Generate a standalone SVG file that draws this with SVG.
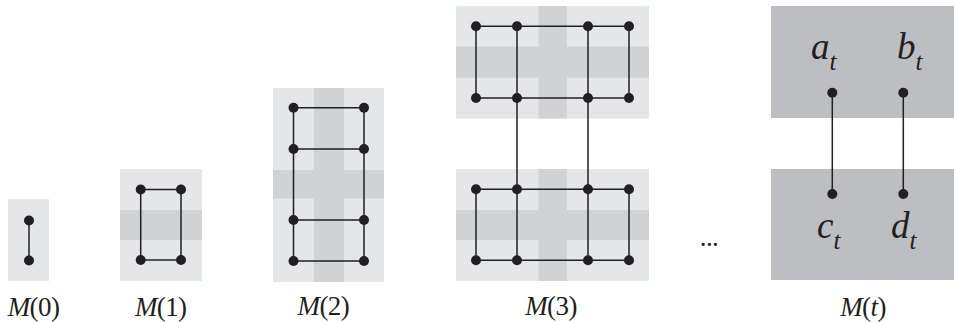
<svg xmlns="http://www.w3.org/2000/svg" width="954" height="322" viewBox="0 0 954 322">
<style>
.bg{fill:#e5e6e8}
.band{fill:#d1d2d4}
.dk{fill:#bdbec2}
.e{stroke:#231f20;stroke-width:1.5;fill:none}
.d{fill:#231f20}
text{font-family:'Liberation Serif','Times New Roman',Times,serif;fill:#231f20}
.lbl{font-size:27px;text-anchor:middle;letter-spacing:-0.6px}
.it{font-style:italic}
.var{font-style:italic}
</style>
<defs>
<circle id="dot" r="5" class="d"/>
</defs>
<g id="M0">
<rect class="bg" x="8" y="199" width="41" height="82"/>
</g>
<g id="M1">
<rect class="bg" x="120" y="169" width="82" height="112"/>
<rect class="band" x="120" y="210" width="82" height="30"/>
</g>
<g id="M2">
<rect class="bg" x="273" y="88" width="111" height="194"/>
<rect class="band" x="314" y="88" width="30" height="194"/>
<rect class="band" x="273" y="170" width="111" height="28.5"/>
</g>
<g id="M3">
<rect class="bg" x="456" y="6" width="193" height="112.5"/>
<rect class="band" x="538.5" y="6" width="28.5" height="112.5"/>
<rect class="band" x="456" y="46.7" width="193" height="31"/>
<rect class="bg" x="456" y="169" width="193" height="112"/>
<rect class="band" x="538.5" y="169" width="28.5" height="112"/>
<rect class="band" x="456" y="210" width="193" height="30"/>
</g>
<g id="Mt">
<rect class="dk" x="771" y="6" width="183" height="112"/>
<rect class="dk" x="771" y="169" width="183" height="111"/>
</g>
<g id="connectors">
<path class="e" d="M29 220.5V260.5"/>
<path class="e" d="M140.7 189.5H181V260H140.7Z"/>
<path class="e" d="M293.5 107.7V261M364 107.7V261M293.5 107.7H364M293.5 149H364M293.5 220H364M293.5 261H364"/>
<path class="e" d="M476 26.3H629M476 98H629M476 26.3V98M629 26.3V98M517 26.3V260.3M588 26.3V260.3"/>
<path class="e" d="M476 189.3H629M476 260.3H629M476 189.3V260.3M629 189.3V260.3"/>
<path class="e" d="M832.3 92.7V194M903.3 92.7V194"/>
</g>
<g id="dots">
<use href="#dot" x="29" y="220.5"/><use href="#dot" x="29" y="260.5"/>
<use href="#dot" x="140.7" y="189.5"/><use href="#dot" x="181" y="189.5"/><use href="#dot" x="140.7" y="260"/><use href="#dot" x="181" y="260"/>
<use href="#dot" x="293.5" y="107.7"/><use href="#dot" x="364" y="107.7"/>
<use href="#dot" x="293.5" y="149"/><use href="#dot" x="364" y="149"/>
<use href="#dot" x="293.5" y="220"/><use href="#dot" x="364" y="220"/>
<use href="#dot" x="293.5" y="261"/><use href="#dot" x="364" y="261"/>
<use href="#dot" x="476" y="26.3"/><use href="#dot" x="517" y="26.3"/><use href="#dot" x="588" y="26.3"/><use href="#dot" x="629" y="26.3"/>
<use href="#dot" x="476" y="98"/><use href="#dot" x="517" y="98"/><use href="#dot" x="588" y="98"/><use href="#dot" x="629" y="98"/>
<use href="#dot" x="476" y="189.3"/><use href="#dot" x="517" y="189.3"/><use href="#dot" x="588" y="189.3"/><use href="#dot" x="629" y="189.3"/>
<use href="#dot" x="476" y="260.3"/><use href="#dot" x="517" y="260.3"/><use href="#dot" x="588" y="260.3"/><use href="#dot" x="629" y="260.3"/>
<use href="#dot" x="832.3" y="92.7"/><use href="#dot" x="903.3" y="92.7"/>
<use href="#dot" x="832.3" y="194"/><use href="#dot" x="903.3" y="194"/>
</g>
<g id="vars">
<text class="var" x="811" y="58.5" font-size="37">a<tspan font-size="25" dy="11">t</tspan></text>
<text class="var" x="897" y="58.5" font-size="37">b<tspan font-size="25" dy="11">t</tspan></text>
<text class="var" x="817" y="237.5" font-size="37">c<tspan font-size="25" dy="11">t</tspan></text>
<text class="var" x="891" y="237.5" font-size="37">d<tspan font-size="25" dy="11">t</tspan></text>
</g>
<g id="labels">
<text class="lbl" x="33.5" y="316"><tspan class="it">M</tspan>(0)</text>
<text class="lbl" x="160.7" y="315.5"><tspan class="it">M</tspan>(1)</text>
<text class="lbl" x="323.3" y="315"><tspan class="it">M</tspan>(2)</text>
<text class="lbl" x="551" y="315"><tspan class="it">M</tspan>(3)</text>
<text class="lbl" x="863" y="315.5"><tspan class="it">M</tspan>(<tspan class="it">t</tspan>)</text>
<text class="lbl" x="709" y="245.5" letter-spacing="1">...</text>
</g>
</svg>
